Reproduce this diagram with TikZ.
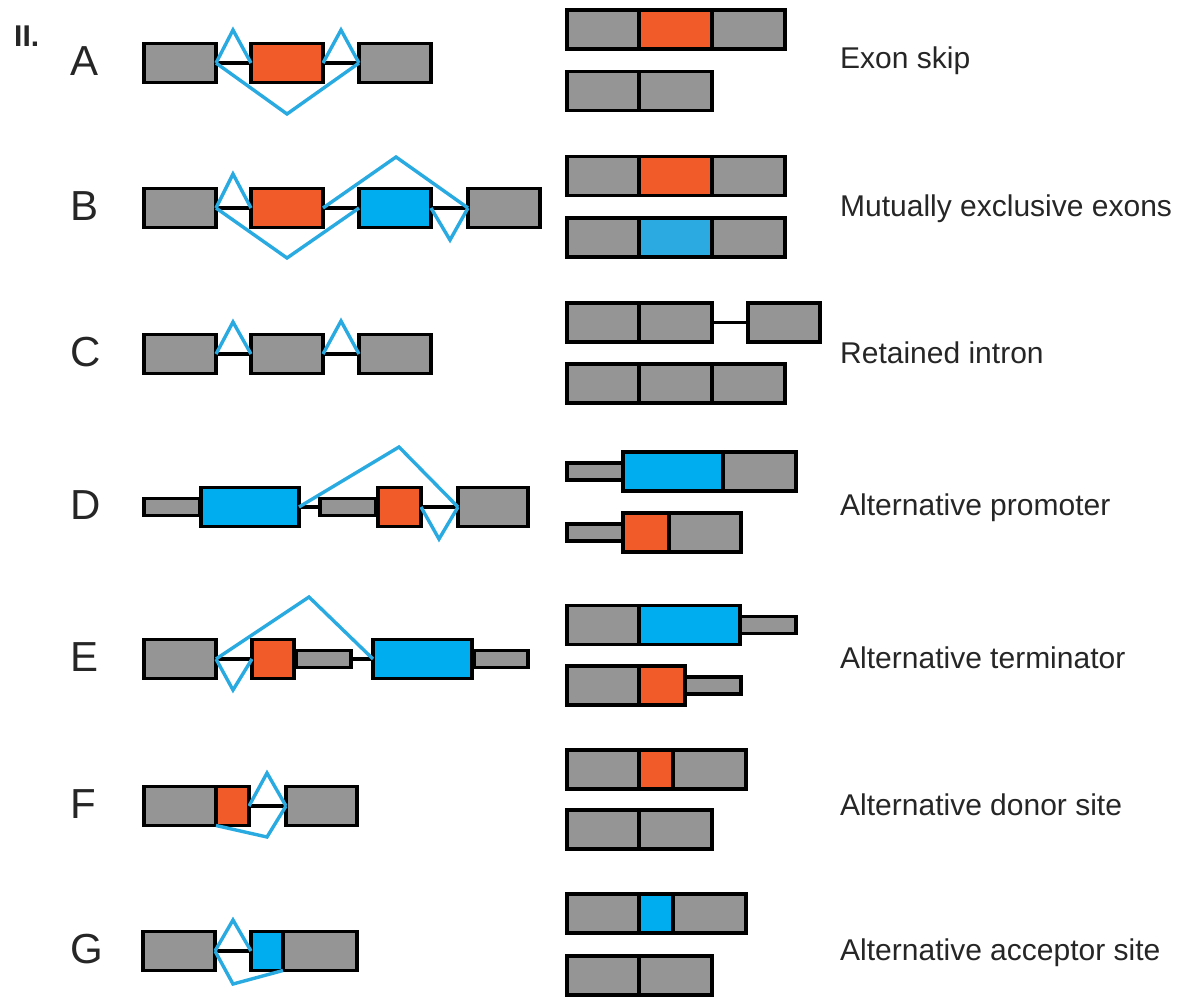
\documentclass[tikz,border=0pt]{standalone}
\usepackage{fontspec}
\setmainfont{Liberation Sans}
\usepackage{tikz}
\usepackage{xcolor}
\definecolor{exgray}{HTML}{959595}
\definecolor{exorange}{HTML}{F15A29}
\definecolor{exblue}{HTML}{00AEEF}
\definecolor{exblue2}{HTML}{2BA9E1}
\definecolor{splice}{HTML}{29AAE1}
\definecolor{txt}{HTML}{262626}

\begin{document}
\begin{tikzpicture}[x=1pt,y=-1pt,
  ex/.style={draw=black,line width=3.4pt,minimum width=#1pt,minimum height=39pt,inner sep=0pt,outer sep=0pt},
  utr/.style={draw=black,fill=exgray,line width=3.4pt,minimum width=#1pt,minimum height=17pt,inner sep=0pt,outer sep=0pt},
  intr/.style={line width=3.2pt},
  spl/.style={draw=splice,line width=3.4pt,line join=miter},
  lab/.style={anchor=base west,inner sep=0pt,text=txt,font=\fontsize{30}{36}\selectfont},
  let/.style={anchor=base west,inner sep=0pt,text=txt,font=\fontsize{42}{50}\selectfont}]
  \useasboundingbox (0,0) rectangle (1188,998);
  \node[anchor=base west,inner sep=0pt,text=txt,font=\bfseries\fontsize{30}{36}\selectfont] (num) at (14,47) {II.};

  \node[let] (lA) at (70,75) {A}; \node[let] (lB) at (70,220) {B}; \node[let] (lC) at (70,366) {C};
  \node[let] (lD) at (70,519) {D}; \node[let] (lE) at (70,671) {E}; \node[let] (lF) at (70,818) {F};
  \node[let] (lG) at (70,963) {G};

  \node[ex=72,fill=exgray] (a1) at (180,63) {}; \node[ex=72,fill=exorange] (a2) at (287,63) {}; \node[ex=72,fill=exgray] (a3) at (395,63) {};
  \coordinate (a12) at (233,30); \coordinate (a23) at (341,30); \coordinate (a13) at (287,114);
  \draw[intr] (a1.east)--(a2.west) (a2.east)--(a3.west);
  \draw[spl] (a1.east)--(a12)--(a2.west) (a2.east)--(a23)--(a3.west) (a1.east)--(a13)--(a3.west);

  \node[ex=72,fill=exgray] (b1) at (180,208) {}; \node[ex=72,fill=exorange] (b2) at (287,208) {};
  \node[ex=72,fill=exblue] (b3) at (395,208) {}; \node[ex=72,fill=exgray] (b4) at (504,208) {};
  \coordinate (b12) at (233,174); \coordinate (b13) at (287,258); \coordinate (b24) at (396,157); \coordinate (b34) at (450,240);
  \draw[intr] (b1.east)--(b2.west) (b2.east)--(b3.west) (b3.east)--(b4.west);
  \draw[spl] (b1.east)--(b12)--(b2.west) (b1.east)--(b13)--(b3.west) (b2.east)--(b24)--(b4.west) (b3.east)--(b34)--(b4.west);

  \node[ex=72,fill=exgray] (c1) at (180,354) {}; \node[ex=72,fill=exgray] (c2) at (287,354) {}; \node[ex=72,fill=exgray] (c3) at (395,354) {};
  \coordinate (c12) at (233,322); \coordinate (c23) at (341,321);
  \draw[intr] (c1.east)--(c2.west) (c2.east)--(c3.west);
  \draw[spl] (c1.east)--(c12)--(c2.west) (c2.east)--(c23)--(c3.west);

  \node[utr=56] (d0) at (172,507) {}; \node[ex=98,fill=exblue] (d1) at (250,507) {};
  \node[utr=56] (d2) at (348,507) {}; \node[ex=43,fill=exorange] (d3) at (399.5,507) {};
  \node[ex=70,fill=exgray] (d4) at (493,507) {};
  \coordinate (d14) at (399,447); \coordinate (d34) at (439,539);
  \draw[intr] (d1.east)--(d2.west) (d3.east)--(d4.west);
  \draw[spl] (d1.east)--(d14)--(d4.west) (d3.east)--(d34)--(d4.west);

  \node[ex=72,fill=exgray] (e1) at (180,659) {}; \node[utr=55] (e2u) at (323.5,659) {}; \node[ex=42,fill=exorange] (e2) at (273,659) {};
  \node[utr=54] (e3u) at (501,659) {}; \node[ex=99,fill=exblue] (e3) at (422.5,659) {};
  \coordinate (e13) at (309,597); \coordinate (e12) at (233,690);
  \draw[intr] (e1.east)--(e2.west) (e2u.east)--(e3.west);
  \draw[spl] (e1.east)--(e13)--(e3.west) (e1.east)--(e12)--(e2.west);

  \node[ex=72,fill=exgray] (f1) at (180,806) {}; \node[ex=33,fill=exorange] (f2) at (232.5,806) {}; \node[ex=71,fill=exgray] (f3) at (321.5,806) {};
  \coordinate (f23) at (267,773); \coordinate (f13) at (267,837);
  \draw[intr] (f2.east)--(f3.west);
  \draw[spl] (f2.east)--(f23)--(f3.west) (f2.south west)--(f13)--(f3.west);

  \node[ex=72,fill=exgray] (g1) at (179,951) {}; \node[ex=32,fill=exblue] (g2) at (267,951) {}; \node[ex=74,fill=exgray] (g3) at (320,951) {};
  \coordinate (g12) at (233,920); \coordinate (g13) at (233,984);
  \draw[intr] (g1.east)--(g2.west);
  \draw[spl] (g1.east)--(g12)--(g2.west) (g1.east)--(g13)--(g2.south east);

  \node[ex=72,fill=exgray] (r1a1) at (603,29.5) {}; \node[ex=73,fill=exorange] (r1a2) at (675.5,29.5) {}; \node[ex=73,fill=exgray] (r1a3) at (748.5,29.5) {};
  \node[ex=72,fill=exgray] (r1b1) at (603,91) {}; \node[ex=73,fill=exgray] (r1b2) at (675.5,91) {};
  \node[ex=72,fill=exgray] (r2a1) at (603,176) {}; \node[ex=73,fill=exorange] (r2a2) at (675.5,176) {}; \node[ex=73,fill=exgray] (r2a3) at (748.5,176) {};
  \node[ex=72,fill=exgray] (r2b1) at (603,237.5) {}; \node[ex=73,fill=exblue2] (r2b2) at (675.5,237.5) {}; \node[ex=73,fill=exgray] (r2b3) at (748.5,237.5) {};
  \node[ex=72,fill=exgray] (r3a1) at (603,322.5) {}; \node[ex=73,fill=exgray] (r3a2) at (675.5,322.5) {}; \node[ex=72,fill=exgray] (r3a3) at (784,322.5) {};
  \draw[intr] (r3a2.east)--(r3a3.west);
  \node[ex=72,fill=exgray] (r3b1) at (603,383.5) {}; \node[ex=73,fill=exgray] (r3b2) at (675.5,383.5) {}; \node[ex=73,fill=exgray] (r3b3) at (748.5,383.5) {};
  \node[utr=56] (r4a0) at (595,471.5) {}; \node[ex=100,fill=exblue] (r4a1) at (673,471.5) {}; \node[ex=73,fill=exgray] (r4a2) at (759.5,471.5) {};
  \node[utr=56] (r4b0) at (595,532.5) {}; \node[ex=46,fill=exorange] (r4b1) at (646,532.5) {}; \node[ex=72,fill=exgray] (r4b2) at (705,532.5) {};
  \node[utr=56] (r5a3) at (768,625) {}; \node[ex=72,fill=exgray] (r5a1) at (603,625) {}; \node[ex=101,fill=exblue] (r5a2) at (689.5,625) {};
  \node[utr=56] (r5b3) at (713,685.5) {}; \node[ex=72,fill=exgray] (r5b1) at (603,685.5) {}; \node[ex=46,fill=exorange] (r5b2) at (662,685.5) {};
  \node[ex=72,fill=exgray] (r6a1) at (603,769.5) {}; \node[ex=34,fill=exorange] (r6a2) at (656,769.5) {}; \node[ex=73,fill=exgray] (r6a3) at (709.5,769.5) {};
  \node[ex=72,fill=exgray] (r6b1) at (603,829.5) {}; \node[ex=73,fill=exgray] (r6b2) at (675.5,829.5) {};
  \node[ex=72,fill=exgray] (r7a1) at (603,913.5) {}; \node[ex=34,fill=exblue] (r7a2) at (656,913.5) {}; \node[ex=73,fill=exgray] (r7a3) at (709.5,913.5) {};
  \node[ex=72,fill=exgray] (r7b1) at (603,975.5) {}; \node[ex=73,fill=exgray] (r7b2) at (675.5,975.5) {};

  \node[lab] (tA) at (840,69) {Exon skip};
  \node[lab] (tB) at (840,216) {Mutually exclusive exons};
  \node[lab] (tC) at (840,363) {Retained intron};
  \node[lab] (tD) at (840,515) {Alternative promoter};
  \node[lab] (tE) at (840,668) {Alternative terminator};
  \node[lab] (tF) at (840,815) {Alternative donor site};
  \node[lab] (tG) at (840,960) {Alternative acceptor site};
\end{tikzpicture}
\end{document}
